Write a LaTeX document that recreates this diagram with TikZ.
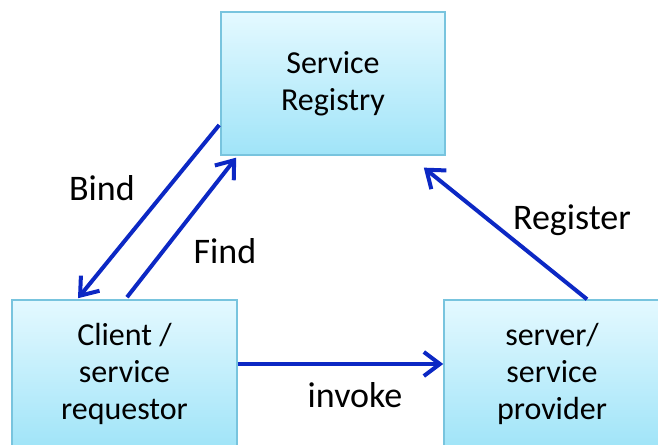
\documentclass[tikz,border=0pt]{standalone}
\usepackage{fontspec}
\setmainfont{Carlito}
\usetikzlibrary{arrows.meta,calc}

\definecolor{boxtop}{RGB}{228,249,255}
\definecolor{boxbottom}{RGB}{160,228,248}
\definecolor{boxline}{RGB}{120,196,222}
\definecolor{arrowblue}{RGB}{12,40,196}

\tikzset{every picture/.style={line width=0.75pt}}
\tikzset{
  svcbox/.style={draw=boxline, line width=1.2pt, top color=boxtop, bottom color=boxbottom,
    inner sep=0pt, align=center, font=\fontsize{24}{28}\selectfont},
  flow/.style={draw=arrowblue, line width=3pt,
    -{Straight Barb[length=12pt,width=18pt,line width=3pt]}},
  flowlabel/.style={inner sep=0.75pt, font=\fontsize{27}{30}\selectfont}
}

\begin{document}
\begin{tikzpicture}[x=0.75pt,y=0.75pt,yscale=-1,xscale=1]
\useasboundingbox (0,0) rectangle (658,444);

%Shape: Rectangle [registry]
\node [svcbox, minimum width=168pt, minimum height=107pt] (reg) at (333,83.5) {Service\\Registry};
%Shape: Rectangle [client] (runs past the bottom edge)
\node [svcbox, minimum width=169pt, minimum height=111pt] (client) at (124.5,374) {Client /\\service\\requestor};
%Shape: Rectangle [provider] (runs past the bottom edge)
\node [svcbox, minimum width=162pt, minimum height=111pt] (prov) at (552,374) {server/\\service\\provider};

%Straight Lines [bind]
\draw [flow] ($(reg.west)+(-1,41.5)$) -- ($(client.north)+(-46.5,-1)$) ;
%Straight Lines [find]
\draw [flow] ($(client.north)+(2.5,-2)$) -- ($(reg.south west)+(16,2)$) ;
%Straight Lines [register]
\draw [flow] ($(prov.north)+(35,0)$) -- ($(reg.south east)+(-22,12)$) ;
%Straight Lines [invoke]
\draw [flow] ($(client.east)+(0,-10)$) -- ($(prov.west)+(0,-10)$) ;

% Text Node
\node [flowlabel] (lbind) at (102,188) {Bind};
% Text Node
\node [flowlabel] (lfind) at (225,251) {Find};
% Text Node
\node [flowlabel] (lreg) at (572,220) {Register};
% Text Node
\node [flowlabel] (linv) at (355,395) {invoke};

\end{tikzpicture}
\end{document}
